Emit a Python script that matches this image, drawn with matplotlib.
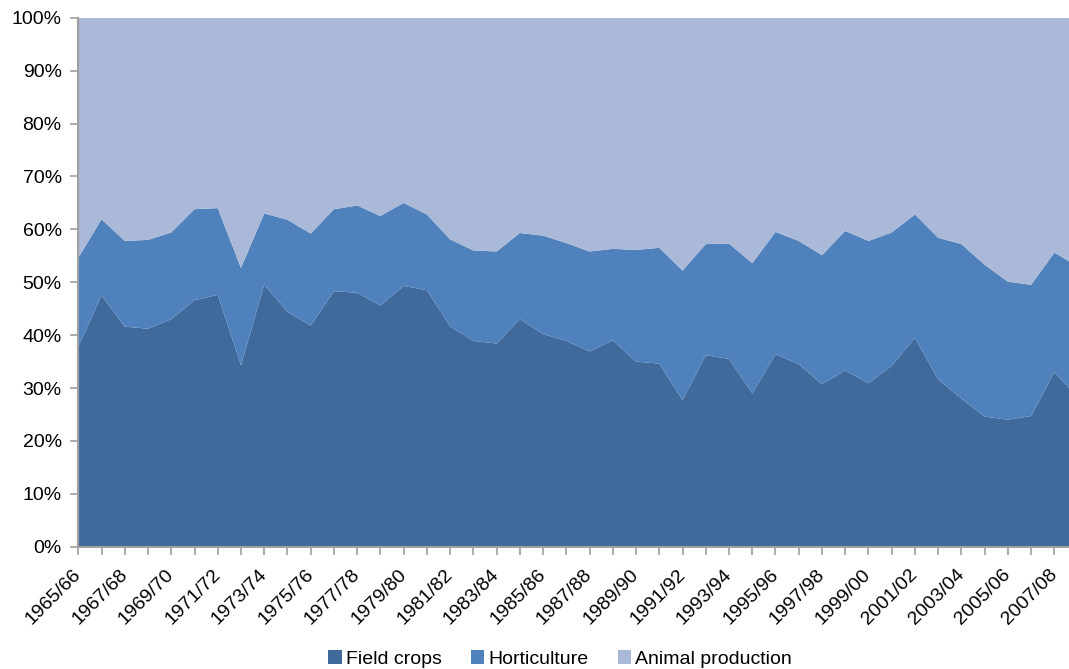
import matplotlib
matplotlib.use("Agg")
import matplotlib.pyplot as plt
import numpy as np

plt.rcParams['font.family'] = ['Liberation Sans', 'DejaVu Sans']

seasons = [f"{y}/{str(y + 1)[-2:]}" for y in range(1965, 2009)]

field_crops = [37.8, 47.5, 41.6, 41.2, 43.0, 46.6, 47.6, 34.3, 49.5, 44.4,
               41.8, 48.3, 48.0, 45.6, 49.3, 48.5, 41.6, 38.9, 38.4, 43.0,
               40.2, 38.9, 36.9, 39.0, 35.0, 34.6, 27.7, 36.2, 35.5, 29.0,
               36.4, 34.5, 30.7, 33.3, 30.9, 34.2, 39.5, 31.6, 28.0, 24.6,
               24.0, 24.7, 33.0, 28.3]
horticulture = [16.8, 14.4, 16.2, 16.8, 16.4, 17.2, 16.4, 18.4, 13.5, 17.4,
                17.4, 15.5, 16.5, 16.9, 15.7, 14.3, 16.5, 17.1, 17.4, 16.3,
                18.6, 18.5, 18.9, 17.3, 21.1, 21.9, 24.5, 21.0, 21.8, 24.6,
                23.1, 23.3, 24.4, 26.4, 26.9, 25.2, 23.3, 26.8, 29.2, 28.7,
                26.1, 24.8, 22.6, 24.7]
animal_production = [45.4, 38.1, 42.2, 42.0, 40.6, 36.2, 36.0, 47.3, 37.0, 38.2,
                     40.8, 36.2, 35.5, 37.5, 35.0, 37.2, 41.9, 44.0, 44.2, 40.7,
                     41.2, 42.6, 44.2, 43.7, 43.9, 43.5, 47.8, 42.8, 42.7, 46.4,
                     40.5, 42.2, 44.9, 40.3, 42.2, 40.6, 37.2, 41.6, 42.8, 46.7,
                     49.9, 50.5, 44.4, 47.0]
series_names = ["Field crops", "Horticulture", "Animal production"]
colors = ["#416A9C", "#4F81BD", "#AAB9D7"]

W, H = 1069, 669
fig = plt.figure(figsize=(W / 100, H / 100), dpi=100)
x0, x_end = 78.3, 78.3 + 23.24 * (len(seasons) - 1)
y_bot, y_top = 546.7, 17.7
ax = fig.add_axes([x0 / W, (H - y_bot) / H, (x_end - x0) / W, (y_bot - y_top) / H])

x = np.arange(len(seasons))
data = np.vstack([field_crops, horticulture, animal_production])
data = data / data.sum(axis=0) * 100
ax.stackplot(x, data, colors=colors, labels=series_names, linewidth=0)

ax.set_xlim(0, len(seasons) - 1)
ax.set_ylim(0, 100)
ax.set_yticks(np.arange(0, 101, 10))
ax.set_yticklabels([f"{v}%" for v in range(0, 101, 10)], fontsize=14)
ax.set_xticks(x)
ax.set_xticklabels([s if i % 2 == 0 else "" for i, s in enumerate(seasons)],
                   rotation=45, ha='right', va='center', rotation_mode='anchor',
                   fontsize=14)
ax.tick_params(axis='x', length=6, color='#A0A0A0', width=1.2, pad=12)
ax.tick_params(axis='y', length=6, color='#A0A0A0', width=1.2, pad=6)
for side in ['top', 'right']:
    ax.spines[side].set_visible(False)
for side in ['left', 'bottom']:
    ax.spines[side].set_color('#A0A0A0')
    ax.spines[side].set_linewidth(1.5)

fig.legend(loc='center', bbox_to_anchor=(560 / W, 10 / H), ncol=3, frameon=False,
           fontsize=14, handlelength=0.7, handleheight=0.7, handletextpad=0.2,
           columnspacing=1.5, borderaxespad=0, borderpad=0)

fig.savefig("out.png", dpi=100)
